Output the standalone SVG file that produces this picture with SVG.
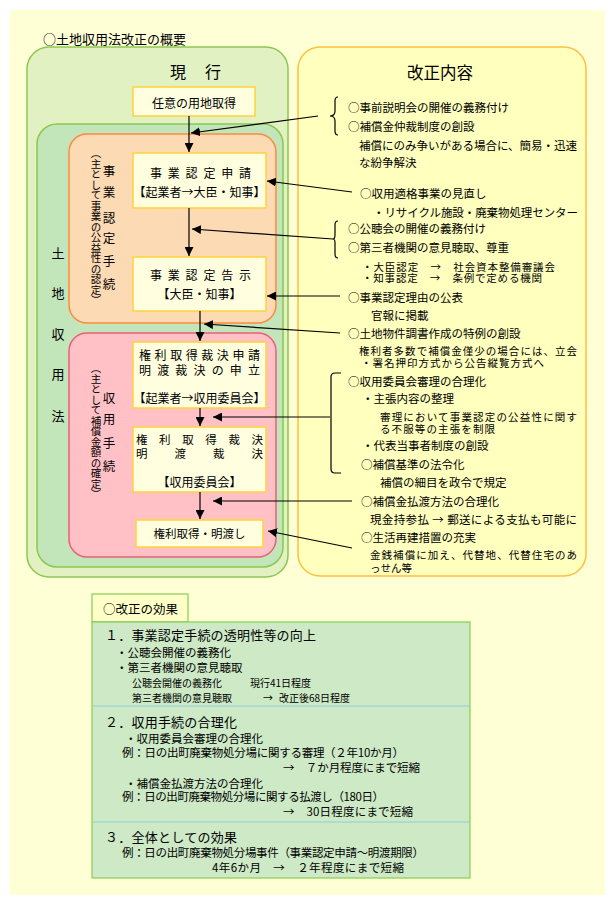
<svg xmlns="http://www.w3.org/2000/svg" width="615" height="905" viewBox="0 0 615 905">
<style>
text{font-family:"Noto Sans CJK JP","Noto Sans CJK SC",sans-serif;fill:#000;dominant-baseline:central}
.r{font-size:11.5px}
.t{font-size:10.5px}
.b{font-size:12px}
.s{font-size:10px}
.v{writing-mode:vertical-rl;font-size:10.5px}
.box{fill:#FFFFE0;stroke:#FFD23C;stroke-width:1.5}
.ln{stroke:#000;stroke-width:1.2;fill:none}
</style>
<defs>
<marker id="ah" viewBox="0 0 10 10" refX="10" refY="5" markerWidth="9" markerHeight="9" markerUnits="userSpaceOnUse" orient="auto">
<path d="M0,0 L10,5 L0,10 z" fill="#000"/>
</marker>
</defs>
<rect x="10" y="10" width="595" height="885" fill="#FFFFD6"/>
<text x="43" y="38" style="font-size:13px">○土地収用法改正の概要</text>

<g id="genko">
<rect x="27" y="47" width="261" height="530" rx="22" fill="#E1F1C1" stroke="#8CC850" stroke-width="1.5"/>
<text x="170" y="71" style="font-size:16px">現</text>
<text x="205" y="71" style="font-size:16px">行</text>
</g>
<g id="tochi">
<rect x="37" y="124" width="246" height="443" rx="20" fill="#C2E5BA" stroke="#8CC850" stroke-width="1.5"/>
<g style="font-size:13px" text-anchor="middle">
<text x="58" y="252">土</text><text x="58" y="292">地</text><text x="58" y="333">収</text><text x="58" y="373">用</text><text x="58" y="415">法</text>
</g>
</g>
<g id="jigyo">
<rect x="69" y="134" width="207" height="189" rx="18" fill="#FCDAB4" stroke="#FF8A3C" stroke-width="1.5"/>
<g style="font-size:12.5px" text-anchor="middle">
<text x="109" y="170">事</text><text x="109" y="191">業</text><text x="109" y="217">認</text><text x="109" y="237">定</text><text x="109" y="260">手</text><text x="109" y="283">続</text>
</g>
<text class="v" x="96" y="148">（主として事業の公益性の認定）</text>
</g>
<g id="shuyo">
<rect x="69" y="333" width="207" height="224" rx="18" fill="#FFC1C6" stroke="#E8607A" stroke-width="1.5"/>
<g style="font-size:12.5px" text-anchor="middle">
<text x="109" y="397">収</text><text x="109" y="418">用</text><text x="109" y="442">手</text><text x="109" y="465">続</text>
</g>
<text class="v" x="96" y="363">（主として補償金額の確定）</text>
</g>

<g id="nini">
<rect class="box" x="133" y="87" width="122" height="29"/>
<text class="b" x="194" y="102" text-anchor="middle">任意の用地取得</text>
</g>
<g id="shinsei">
<rect class="box" x="133" y="153" width="133" height="55"/>
<text class="b" x="150" y="172" textLength="101" lengthAdjust="spacing">事業認定申請</text>
<text class="b" x="199.5" y="191" text-anchor="middle">【起業者→大臣・知事】</text>
</g>
<g id="kokuji">
<rect class="box" x="133" y="257" width="133" height="54"/>
<text class="b" x="150" y="274" textLength="101" lengthAdjust="spacing">事業認定告示</text>
<text class="b" x="199.5" y="293" text-anchor="middle">【大臣・知事】</text>
</g>
<g id="saiketsu-shinsei">
<rect class="box" x="133" y="342" width="133" height="66"/>
<text class="b" x="139" y="354" textLength="121" lengthAdjust="spacing">権利取得裁決申請</text>
<text class="b" x="139" y="369" textLength="121" lengthAdjust="spacing">明渡裁決の申立</text>
<text class="b" x="199.5" y="397" text-anchor="middle">【起業者→収用委員会】</text>
</g>
<g id="saiketsu">
<rect class="box" x="133" y="427" width="133" height="65"/>
<text class="r" x="136" y="439" textLength="127" lengthAdjust="spacing">権利取得裁決</text>
<text class="r" x="136" y="453" textLength="127" lengthAdjust="spacing">明渡裁決</text>
<text class="b" x="199.5" y="481" text-anchor="middle">【収用委員会】</text>
</g>
<g id="akewatashi">
<rect class="box" x="136" y="520" width="127" height="27"/>
<text class="r" x="199.5" y="533" text-anchor="middle">権利取得・明渡し</text>
</g>

<g id="kaisei">
<rect x="298" y="47" width="288" height="529" rx="22" fill="#FFFFBE" stroke="#FFBF40" stroke-width="1.5"/>
<text x="440" y="72" text-anchor="middle" style="font-size:16.5px">改正内容</text>
<text class="r" x="348" y="107">○事前説明会の開催の義務付け</text>
<text class="r" x="348" y="126">○補償金仲裁制度の創設</text>
<text class="r" x="359" y="145" textLength="218">補償にのみ争いがある場合に、簡易・迅速</text>
<text class="r" x="359" y="162">な紛争解決</text>
<text class="r" x="360" y="193">○収用適格事業の見直し</text>
<text class="r" x="373" y="212" textLength="205">・リサイクル施設・廃棄物処理センター</text>
<text class="r" x="348" y="228">○公聴会の開催の義務付け</text>
<text class="r" x="348" y="247">○第三者機関の意見聴取、尊重</text>
<text class="t" x="362" y="266" xml:space="preserve" textLength="193">・大臣認定　→　社会資本整備審議会</text>
<text class="t" x="362" y="277" xml:space="preserve" textLength="180">・知事認定　→　条例で定める機関</text>
<text class="r" x="348" y="297">○事業認定理由の公表</text>
<text class="r" x="371" y="315">官報に掲載</text>
<text class="r" x="348" y="333">○土地物件調書作成の特例の創設</text>
<text class="t" x="359" y="350" textLength="218">権利者多数で補償金僅少の場合には、立会</text>
<text class="t" x="361" y="362" textLength="183">・署名押印方式から公告縦覧方式へ</text>
<text class="r" x="348" y="381">○収用委員会審理の合理化</text>
<text class="r" x="362" y="398">・主張内容の整理</text>
<text class="t" x="380" y="416" textLength="197">審理において事業認定の公益性に関す</text>
<text class="t" x="380" y="428" textLength="115">る不服等の主張を制限</text>
<text class="r" x="362" y="445">・代表当事者制度の創設</text>
<text class="r" x="361" y="464">○補償基準の法令化</text>
<text class="r" x="380" y="482">補償の細目を政令で規定</text>
<text class="r" x="361" y="501">○補償金払渡方法の合理化</text>
<text class="r" x="370" y="519" xml:space="preserve" textLength="207">現金持参払 → 郵送による支払も可能に</text>
<text class="r" x="361" y="537">○生活再建措置の充実</text>
<text class="t" x="370" y="554" textLength="207">金銭補償に加え、代替地、代替住宅のあ</text>
<text class="t" x="370" y="567">っせん等</text>
</g>

<g id="connectors">
<path class="ln" d="M189,116 V152" marker-end="url(#ah)"/>
<path class="ln" d="M189,208 V256" marker-end="url(#ah)"/>
<path class="ln" d="M200,311 V341" marker-end="url(#ah)"/>
<path class="ln" d="M200,408 V426" marker-end="url(#ah)"/>
<path class="ln" d="M200,492 V519" marker-end="url(#ah)"/>
<path class="ln" d="M318,116 L191,133" marker-end="url(#ah)"/>
<path class="ln" d="M352,192 L267,181" marker-end="url(#ah)"/>
<path class="ln" d="M333,239 L192,229" marker-end="url(#ah)"/>
<path class="ln" d="M340,296 L267,296" marker-end="url(#ah)"/>
<path class="ln" d="M340,333 L204,324" marker-end="url(#ah)"/>
<path class="ln" d="M330,417 L213,417" marker-end="url(#ah)"/>
<path class="ln" d="M352,501 L213,501" marker-end="url(#ah)"/>
<path class="ln" d="M352,548 L268,531" marker-end="url(#ah)"/>
<path class="ln" d="M338,97 Q335,97 335,101 L335,111 Q335,116 330,116 Q335,116 335,121 L335,131 Q335,135 338,135"/>
<path class="ln" d="M338,221 Q335,221 335,225 L335,235 Q335,239 333,239 Q335,239 335,243 L335,254 Q335,258 338,258"/>
<path class="ln" d="M341,373 L335,373 Q331,373 331,377 L331,469 Q331,473 335,473 L341,473"/>
</g>

<g id="kouka">
<rect x="92" y="594" width="96" height="28" fill="#FFFFC8" stroke="#88CC55" stroke-width="1.2"/>
<text x="103" y="608" style="font-size:12.5px">○改正の効果</text>
<rect x="92" y="622" width="378" height="256" fill="#CDE9C6" stroke="#88CC55" stroke-width="1.2"/>
<line x1="93" y1="706" x2="469" y2="706" stroke="#8ACFD8" stroke-width="1.2"/>
<line x1="93" y1="822" x2="469" y2="822" stroke="#8ACFD8" stroke-width="1.2"/>
<text x="105" y="634" style="font-size:13px" textLength="211">１．事業認定手続の透明性等の向上</text>
<text class="r" x="116" y="652">・公聴会開催の義務化</text>
<text class="r" x="116" y="667">・第三者機関の意見聴取</text>
<text class="s" x="132" y="682">公聴会開催の義務化</text>
<text class="s" x="250" y="682">現行41日程度</text>
<text class="s" x="132" y="697">第三者機関の意見聴取</text>
<text class="s" x="263" y="697">→</text>
<text class="s" x="279" y="697">改正後68日程度</text>
<text x="105" y="721" style="font-size:13px" textLength="132">２．収用手続の合理化</text>
<text class="r" x="125" y="738">・収用委員会審理の合理化</text>
<text class="r" x="122" y="752" textLength="282">例：日の出町廃棄物処分場に関する審理（２年10か月）</text>
<text class="r" x="283" y="767" xml:space="preserve" textLength="137">→　７か月程度にまで短縮</text>
<text class="r" x="125" y="783">・補償金払渡方法の合理化</text>
<text class="r" x="122" y="796" textLength="262">例：日の出町廃棄物処分場に関する払渡し（180日）</text>
<text class="r" x="283" y="811" xml:space="preserve" textLength="130">→　30日程度にまで短縮</text>
<text x="105" y="836" style="font-size:13px" textLength="132">３．全体としての効果</text>
<text class="r" x="122" y="852" textLength="302">例：日の出町廃棄物処分場事件（事業認定申請～明渡期限）</text>
<text class="r" x="212" y="867" xml:space="preserve" textLength="192">4年6か月　→　２年程度にまで短縮</text>
</g>
</svg>
